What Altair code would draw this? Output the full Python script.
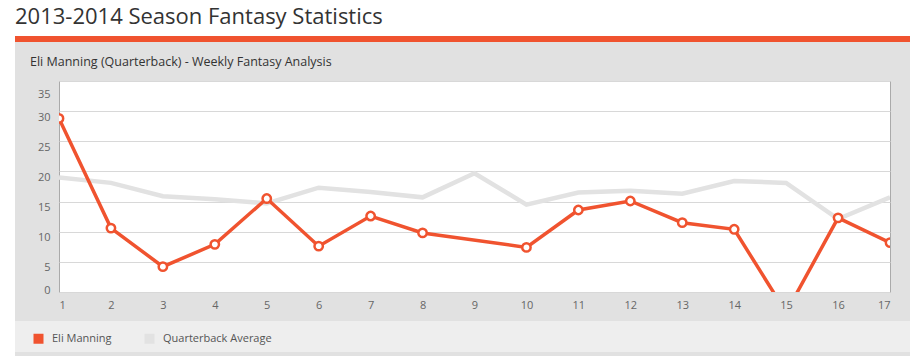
import altair as alt
import pandas as pd

# ---- data ----
weeks = list(range(1, 18))
eli_points = [28.8, 10.6, 4.2, 7.9, 15.5, 7.6, 12.6, 9.8, None, 7.4, 13.6, 15.1, 11.5, 10.4, -3.4, 12.3, 8.2]
qb_average = [19.0, 18.1, 15.9, 15.4, 14.7, 17.3, 16.6, 15.7, 19.7, 14.5, 16.5, 16.8, 16.3, 18.4, 18.1, 12.1, 15.7]
series_names = ["Eli Manning", "Quarterback Average"]
series_colors = ["#f0532f", "#e2e2e2"]
y_ticks = [0, 5, 10, 15, 20, 25, 30, 35]
x_ticks = weeks
page_title = "2013-2014 Season Fantasy Statistics"
panel_title = "Eli Manning (Quarterback) - Weekly Fantasy Analysis"

df = pd.DataFrame({
    "week": weeks * 2,
    "series": [series_names[0]] * 17 + [series_names[1]] * 17,
    "points": eli_points + qb_average,
})

W, H = 831, 211
FONT = "Open Sans"
one = pd.DataFrame({"k": [0]})

base = alt.Chart(df).transform_filter("isValid(datum.points)")

x_enc = alt.X("week:Q", scale=alt.Scale(domain=[1, 17], nice=False, zero=False),
              axis=alt.Axis(values=x_ticks, format="d", title=None, grid=False, ticks=False,
                            domain=False, labelPadding=7, labelFontSize=11, labelColor="#666",
                            labelFont=FONT))
y_enc = alt.Y("points:Q", scale=alt.Scale(domain=[0, 35], nice=False, zero=False),
              axis=alt.Axis(values=y_ticks, title=None, grid=True, gridColor="#d8d8d8",
                            ticks=False, domain=False, labelPadding=9, labelFontSize=11,
                            labelColor="#666", labelFont=FONT, labelBaseline="top",
                            labelFlush=False,
                            labelOffset={"condition": [{"test": "datum.value == 35", "value": 7},
                                                       {"test": "datum.value == 0", "value": -8}],
                                         "value": 0}))
series_scale = alt.Scale(domain=series_names, range=series_colors)
stroke_enc = alt.Stroke("series:N", title=None, scale=series_scale, legend=None)
color_enc = alt.Color("series:N", title=None, scale=series_scale,
                      legend=alt.Legend(orient="none", legendX=-26, legendY=252,
                                        direction="horizontal", symbolType="square",
                                        symbolSize=100, symbolStrokeWidth=0, symbolOpacity=1,
                                        labelOffset=8, columnPadding=32, padding=0,
                                        labelFontSize=11, labelColor="#555", labelFont=FONT))

avg_line = base.transform_filter(alt.datum.series == series_names[1]).mark_line(
    strokeWidth=4.5, clip=True).encode(x=x_enc, y=y_enc, stroke=stroke_enc)
eli_line = base.transform_filter(alt.datum.series == series_names[0]).mark_line(
    strokeWidth=3.5, clip=True).encode(x=x_enc, y=y_enc, stroke=stroke_enc)
eli_pts = base.transform_filter(alt.datum.series == series_names[0]).mark_point(
    filled=True, fill="white", stroke=series_colors[0], strokeWidth=2.5, size=70,
    opacity=1, clip=True).encode(x=x_enc, y=y_enc)
# legend source: filled squares of zero size
legend_src = base.mark_square(size=0, clip=True).encode(x=x_enc, y=y_enc, color=color_enc)

def box(x1, x2, y1, y2, color):
    return alt.Chart(one).mark_rect(color=color).encode(
        x=alt.value(x1), x2=alt.value(x2), y=alt.value(y1), y2=alt.value(y2))

left_strip = box(-51, -44, -73, 275, "white")
top_strip = box(-51, 851, -73, -45, "white")
orange_bar = box(-44, 851, -45, -39, "#f0532f")
legend_band = box(-44, 851, 240, 271, "#eeeeee")

title_txt = alt.Chart(one).mark_text(
    align="left", baseline="alphabetic", font=FONT, fontSize=22, color="#333"
).encode(x=alt.value(-44), y=alt.value(-57), text=alt.value(page_title))
sub_txt = alt.Chart(one).mark_text(
    align="left", baseline="alphabetic", font=FONT, fontSize=12.5, color="#333"
).encode(x=alt.value(-29), y=alt.value(-15.5), text=alt.value(panel_title))

chart = alt.layer(
    left_strip, top_strip, orange_bar, legend_band, title_txt, sub_txt,
    legend_src, avg_line, eli_line, eli_pts
).properties(
    width=W, height=H,
    autosize=alt.AutoSizeParams(type="none"),
    padding={"left": 51, "top": 73, "right": 20, "bottom": 64},
    background="#e1e1e1",
).configure_view(
    fill="white", stroke="#aaaaaa", strokeWidth=1
)

chart.save("out.html", embed_options={"renderer": "svg", "actions": False})
